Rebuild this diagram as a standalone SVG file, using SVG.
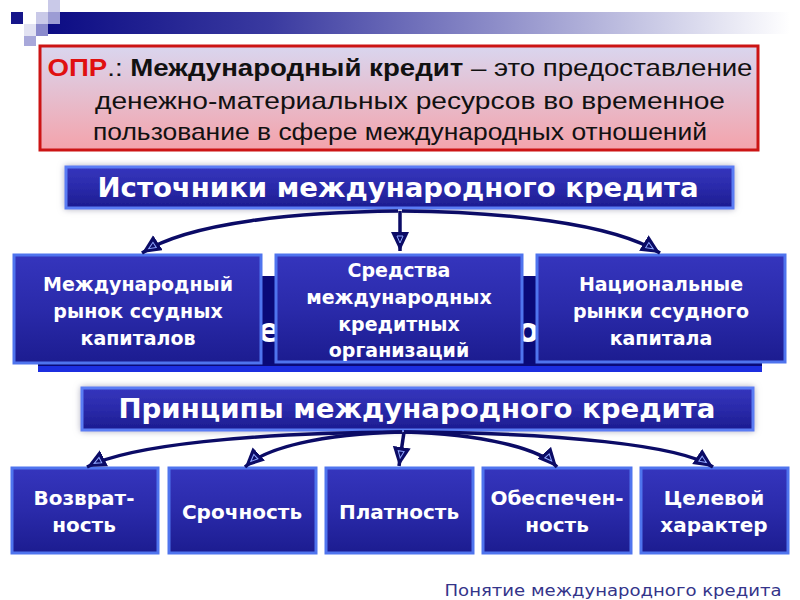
<svg xmlns="http://www.w3.org/2000/svg" width="800" height="600" viewBox="0 0 800 600">
<defs>
<linearGradient id="bar" x1="0" y1="0" x2="1" y2="0">
<stop offset="0" stop-color="#0c0c84"/>
<stop offset="0.3" stop-color="#3a3aa0"/>
<stop offset="0.6" stop-color="#8c8cc8"/>
<stop offset="1" stop-color="#ffffff"/>
</linearGradient>
<linearGradient id="def" x1="0" y1="0" x2="0" y2="1">
<stop offset="0" stop-color="#d9d6ef"/>
<stop offset="1" stop-color="#f4a3ab"/>
</linearGradient>
<linearGradient id="box" x1="0" y1="0" x2="0" y2="1">
<stop offset="0" stop-color="#3535bd"/>
<stop offset="0.5" stop-color="#2a2aaa"/>
<stop offset="1" stop-color="#1c1c90"/>
</linearGradient>
<filter id="glow" x="-5%" y="-30%" width="110%" height="160%">
<feDropShadow dx="0" dy="0" stdDeviation="3" flood-color="#9a9ab0" flood-opacity="0.8"/>
</filter>
<marker id="ah" markerUnits="userSpaceOnUse" markerWidth="22" markerHeight="20" refX="19" refY="9" orient="auto">
<path d="M0,0 L19,9 L0,18 Z" fill="#0b0b66"/>
<path d="M4,6 L11,9 L4,12 Z" fill="none" stroke="#8fa6ff" stroke-width="1"/>
</marker>
</defs>
<style>
.box{fill:url(#box);stroke:#4f74ee;stroke-width:3}
.hdr{fill:url(#box);stroke:#5a7cf4;stroke-width:3;filter:url(#glow)}
.bt{font-family:"DejaVu Sans",Verdana,sans-serif;font-weight:bold;fill:#ffffff;text-anchor:middle}
.ht{font-family:"DejaVu Sans",Verdana,sans-serif;font-weight:bold;fill:#ffffff;text-anchor:middle;font-size:26px}
.dt{font-family:"Liberation Sans Narrow","Liberation Sans",Arial,sans-serif;font-size:24px;fill:#111111;text-anchor:middle}
.con{fill:none;stroke:#0b0b66;stroke-width:3.5;marker-end:url(#ah)}
</style>
<rect width="800" height="600" fill="#ffffff"/>

<g id="decor">
<rect x="48" y="12" width="742" height="22" fill="url(#bar)"/>
<rect x="11" y="12" width="12" height="12" fill="#16168a"/>
<rect x="36" y="12" width="12" height="12" fill="#c9c9e8"/>
<rect x="48" y="0" width="12" height="12" fill="#c9c9e8"/>
<rect x="48" y="12" width="12" height="12" fill="#9c9cd4"/>
<rect x="24" y="24" width="12" height="12" fill="#e2e2f2"/>
<rect x="36" y="24" width="12" height="12" fill="#8a8acc"/>
<rect x="24" y="36" width="12" height="10" fill="#a8a8da"/>
</g>

<g id="definition">
<rect x="40" y="46" width="718" height="104" fill="url(#def)" stroke="#cc1414" stroke-width="3"/>
<text class="dt" x="400" y="76" textLength="705" lengthAdjust="spacingAndGlyphs"><tspan fill="#e01010" font-weight="bold">ОПР</tspan>.: <tspan font-weight="bold">Международный кредит</tspan>  – это предоставление</text>
<text class="dt" x="410" y="109" textLength="630" lengthAdjust="spacingAndGlyphs">денежно-материальных ресурсов во временное</text>
<text class="dt" x="400" y="140" textLength="614" lengthAdjust="spacingAndGlyphs">пользование в сфере международных отношений</text>
</g>

<g id="sources-header">
<rect class="hdr" x="66" y="167" width="667" height="41"/>
<text class="ht" x="398" y="197" textLength="601" lengthAdjust="spacingAndGlyphs">Источники международного кредита</text>
</g>

<g id="back-panel">
<rect x="38" y="276" width="724" height="96" fill="#0a0a78"/>
<rect x="38" y="366" width="724" height="6" fill="#1c2ee0"/>
<text class="bt" x="269" y="342" font-size="34">е</text>
<text class="bt" x="540" y="342" font-size="34">ор</text>
</g>

<g id="src1">
<rect class="box" x="14" y="255" width="247" height="108"/>
<text class="bt" x="138" y="291" font-size="19">Международный</text>
<text class="bt" x="138" y="318" font-size="19">рынок  ссудных</text>
<text class="bt" x="138" y="345" font-size="19">капиталов</text>
</g>

<g id="src2">
<rect class="box" x="276" y="255" width="246" height="107"/>
<text class="bt" x="399" y="277" font-size="19">Средства</text>
<text class="bt" x="399" y="304" font-size="19">международных</text>
<text class="bt" x="399" y="331" font-size="19">кредитных</text>
<text class="bt" x="399" y="357" font-size="19">организаций</text>
</g>

<g id="src3">
<rect class="box" x="537" y="255" width="248" height="107"/>
<text class="bt" x="661" y="291" font-size="19">Национальные</text>
<text class="bt" x="661" y="318" font-size="19">рынки ссудного</text>
<text class="bt" x="661" y="345" font-size="19">капитала</text>
</g>

<g id="principles-header">
<rect class="hdr" x="82" y="388" width="671" height="42"/>
<text class="ht" x="417" y="418" textLength="597" lengthAdjust="spacingAndGlyphs">Принципы международного кредита</text>
</g>

<g id="p1">
<rect class="box" x="12" y="468" width="146" height="85"/>
<text class="bt" x="84" y="505" font-size="20">Возврат-</text>
<text class="bt" x="84" y="532" font-size="20">ность</text>
</g>
<g id="p2">
<rect class="box" x="169" y="468" width="147" height="85"/>
<text class="bt" x="242" y="519" font-size="20">Срочность</text>
</g>
<g id="p3">
<rect class="box" x="326" y="468" width="147" height="85"/>
<text class="bt" x="399" y="519" font-size="20">Платность</text>
</g>
<g id="p4">
<rect class="box" x="483" y="468" width="148" height="85"/>
<text class="bt" x="557" y="505" font-size="20">Обеспечен-</text>
<text class="bt" x="557" y="532" font-size="20">ность</text>
</g>
<g id="p5">
<rect class="box" x="641" y="468" width="147" height="85"/>
<text class="bt" x="714" y="505" font-size="20">Целевой</text>
<text class="bt" x="714" y="532" font-size="20">характер</text>
</g>

<g id="connectors">
<path class="con" d="M398 211 C300 212 190 222 142 253"/>
<path class="con" d="M400 211 L400 251"/>
<path class="con" d="M402 211 C500 212 610 222 660 253"/>
<path class="con" d="M402 432 C250 433 130 445 87 467"/>
<path class="con" d="M402 432 C320 434 265 448 245 467"/>
<path class="con" d="M404 432 L399 466"/>
<path class="con" d="M404 432 C480 434 540 448 557 467"/>
<path class="con" d="M404 432 C560 433 680 445 713 467"/>
</g>

<text x="613" y="596" font-family="'DejaVu Sans',Verdana,sans-serif" font-size="16" fill="#34348a" text-anchor="middle" textLength="337" lengthAdjust="spacingAndGlyphs">Понятие международного кредита</text>
</svg>
